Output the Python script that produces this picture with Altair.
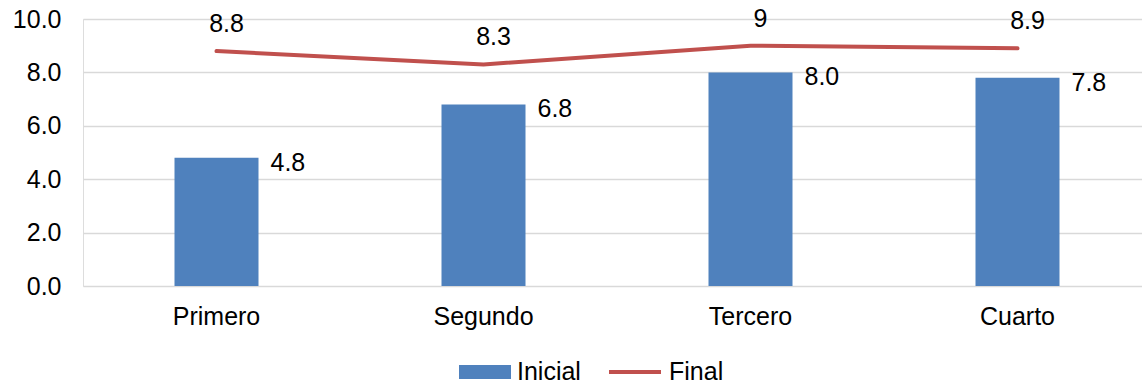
import altair as alt
import pandas as pd

# Course stages with initial (bars) and final (line) averages
categories = ["Primero", "Segundo", "Tercero", "Cuarto"]
inicial = [4.8, 6.8, 8.0, 7.8]
final = [8.8, 8.3, 9, 8.9]
final_labels = ["8.8", "8.3", "9", "8.9"]
y_ticks = [0, 2, 4, 6, 8, 10]

BLUE = "#4F81BD"
RED = "#C0504D"
GRID = "#D9D9D9"
FONT = "Liberation Sans"
FS = 25

df = pd.DataFrame({
    "curso": categories,
    "Inicial": inicial,
    "Final": final,
    "final_txt": final_labels,
})
df["serie_i"] = "Inicial"
df["serie_f"] = "Final"

x_enc = alt.X(
    "curso:N",
    sort=categories,
    scale=alt.Scale(range=[0, 1068], paddingInner=0.685, paddingOuter=0.3425),
    axis=alt.Axis(title=None, labelAngle=0, ticks=False, domain=False, grid=False,
                  labelFontSize=FS, labelFont=FONT, labelColor="#000000", labelPadding=18),
)
y_scale = alt.Scale(domain=[0, 10])

base = alt.Chart(df)

bars = base.mark_bar(size=84).encode(
    x=x_enc,
    y=alt.Y("Inicial:Q", scale=y_scale,
            axis=alt.Axis(title=None, values=y_ticks, format=".1f", ticks=False, domain=False,
                          gridColor=GRID, gridWidth=1.5, labelFontSize=FS, labelFont=FONT,
                          labelColor="#000000", labelPadding=22)),
    color=alt.Color("serie_i:N",
                    scale=alt.Scale(domain=["Inicial"], range=[BLUE]),
                    legend=alt.Legend(title=None, orient="none", legendX=376, legendY=327,
                                      padding=0, symbolType="M-1,-0.27H1V0.27H-1Z",
                                      symbolSize=2704, symbolStrokeWidth=0, symbolOpacity=1,
                                      labelFontSize=FS, labelFont=FONT, labelColor="#000000",
                                      labelOffset=6)),
)

bar_text = base.mark_text(align="left", baseline="middle", dx=54, dy=5,
                          font=FONT, fontSize=FS, color="#000000").encode(
    x=alt.X("curso:N", sort=categories),
    y=alt.Y("Inicial:Q", scale=y_scale),
    text=alt.Text("Inicial:Q", format=".1f"),
)

line = base.mark_line(strokeWidth=4, strokeCap="round", strokeJoin="round").encode(
    x=alt.X("curso:N", sort=categories),
    y=alt.Y("Final:Q", scale=y_scale),
    stroke=alt.Stroke("serie_f:N",
                      scale=alt.Scale(domain=["Final"], range=[RED]),
                      legend=alt.Legend(title=None, orient="none", legendX=524, legendY=325,
                                        padding=0, symbolType="stroke", symbolSize=2704,
                                        symbolStrokeWidth=4,
                                        labelFontSize=FS, labelFont=FONT, labelColor="#000000",
                                        labelOffset=6)),
)

line_text = base.mark_text(align="center", baseline="middle", dx=10, dy=-27,
                           font=FONT, fontSize=FS, color="#000000").encode(
    x=alt.X("curso:N", sort=categories),
    y=alt.Y("Final:Q", scale=y_scale),
    text="final_txt:N",
)

chart = alt.layer(bars, bar_text, line, line_text).properties(
    width=1059,
    height=267,
    autosize=alt.AutoSizeParams(type="none"),
    padding={"left": 83, "top": 19, "right": 0, "bottom": 99},
).configure_view(stroke=None).configure(font=FONT)

chart.save("out.html", embed_options={"renderer": "svg", "actions": False})
